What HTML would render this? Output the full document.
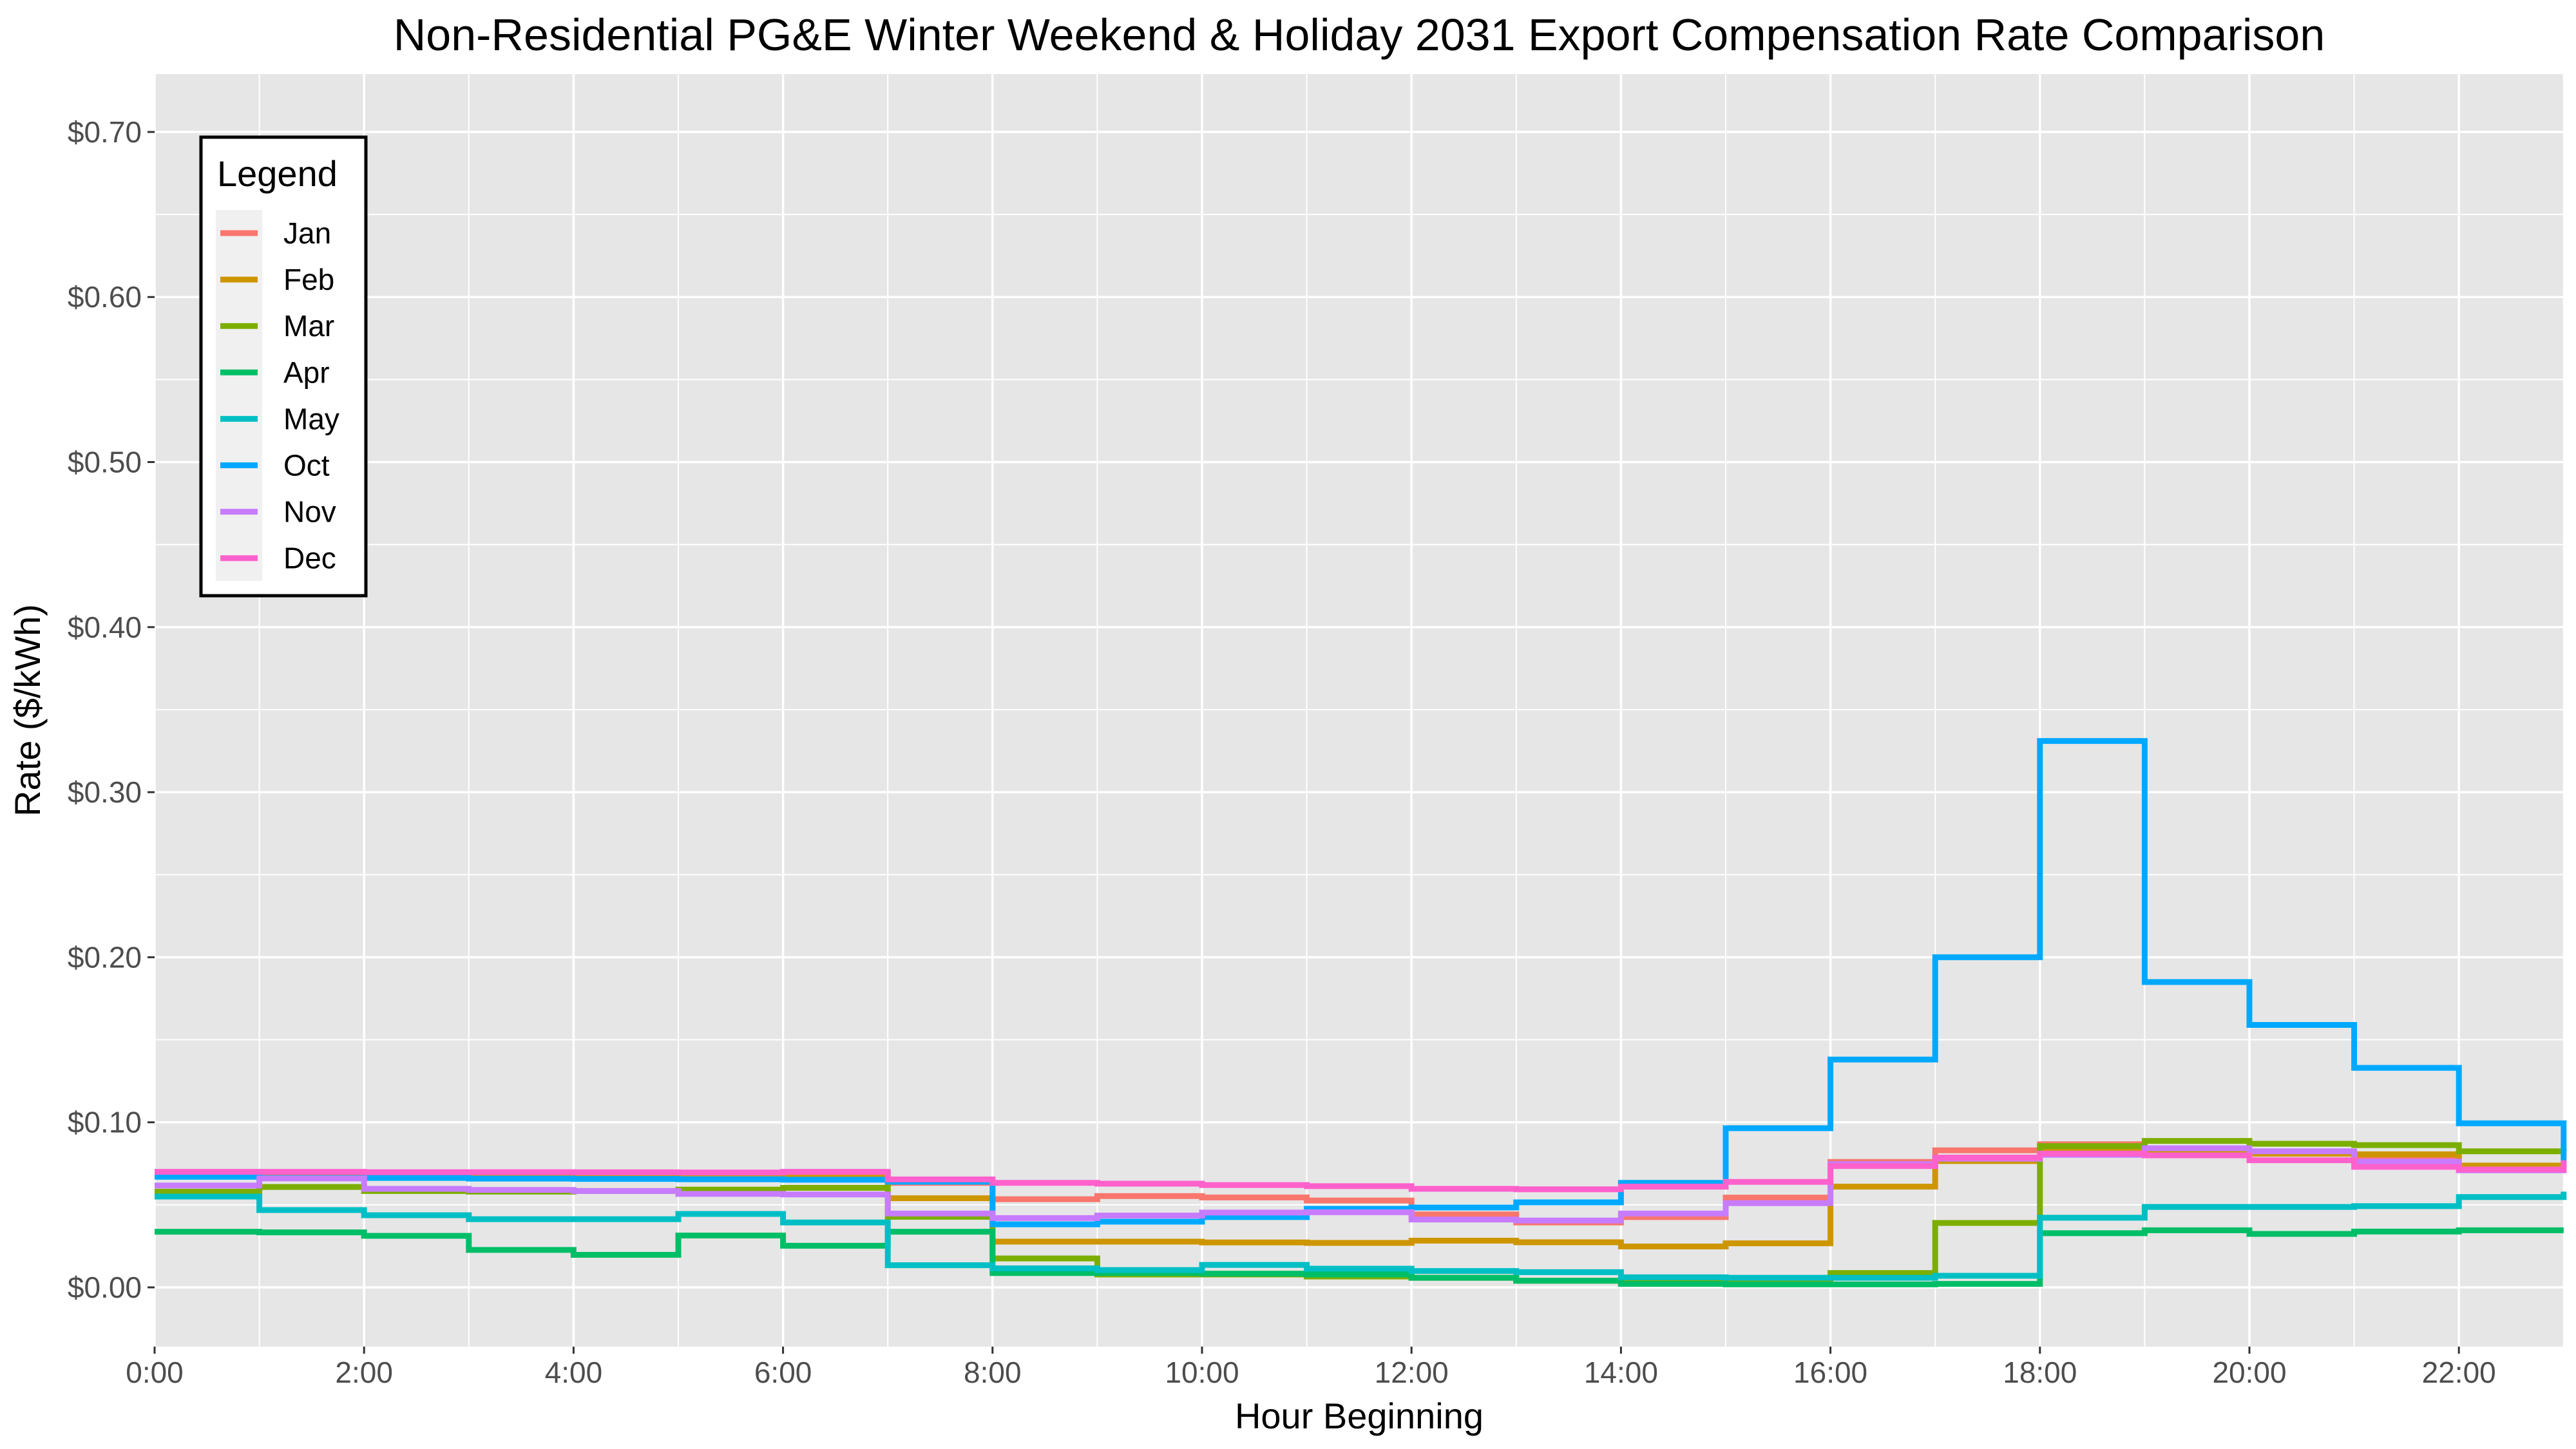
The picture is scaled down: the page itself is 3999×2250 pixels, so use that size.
<!DOCTYPE html>
<html><head><meta charset="utf-8"><style>
html,body{margin:0;padding:0;background:#fff;}
svg{display:block;font-family:"Liberation Sans",Arial,sans-serif;}
</style></head><body>
<svg id="chart" width="3999" height="2250" viewBox="0 0 3999 2250" xmlns="http://www.w3.org/2000/svg">
<text x="2110" y="78" font-size="70" text-anchor="middle" fill="#000">Non-Residential PG&amp;E Winter Weekend &amp; Holiday 2031 Export Compensation Rate Comparison</text>
<rect x="240" y="115" width="3740" height="1976" fill="#E6E6E6"/>
<g id="grid"></g>
<g id="series"></g>
<g id="axes"></g>
<text transform="translate(62,1103) rotate(-90)" font-size="56" text-anchor="middle" fill="#000">Rate ($/kWh)</text>
<text x="2110" y="2218" font-size="56" text-anchor="middle" fill="#000">Hour Beginning</text>
<g id="legend">
<rect x="312" y="213" width="256" height="712" fill="#fff" stroke="#000" stroke-width="5"/>
<text x="337" y="289" font-size="56" fill="#000">Legend</text>
<rect x="335" y="326" width="72" height="576" fill="#F0F0F0"/>
</g>
</svg>
<script>
const hours = [0,1,2,3,4,5,6,7,8,9,10,11,12,13,14,15,16,17,18,19,20,21,22,23];
const months = ["Jan","Feb","Mar","Apr","May","Oct","Nov","Dec"];
const colors = ["#F8766D","#CD9600","#7CAE00","#00BE67","#00BFC4","#00A9FF","#C77CFF","#FF61CC"];
const janValues = [0.069,0.069,0.069,0.069,0.069,0.069,0.069,0.0633,0.0534,0.0553,0.0545,0.0526,0.0442,0.0393,0.0426,0.0544,0.076,0.083,0.0867,0.082,0.081,0.078,0.0733,0.0746];
const febValues = [0.069,0.069,0.069,0.069,0.069,0.069,0.068,0.054,0.0277,0.0277,0.0272,0.0269,0.0283,0.0273,0.0248,0.0267,0.061,0.0765,0.0835,0.082,0.081,0.0806,0.0738,0.074];
const marValues = [0.058,0.0608,0.0584,0.058,0.0584,0.0592,0.0603,0.0427,0.0175,0.0078,0.0078,0.0066,0.0058,0.004,0.0034,0.003,0.0087,0.039,0.0856,0.0887,0.087,0.0862,0.0824,0.082];
const aprValues = [0.0337,0.0333,0.0312,0.0227,0.0197,0.0314,0.0252,0.0337,0.0087,0.0087,0.0083,0.0078,0.0058,0.004,0.0021,0.0018,0.0018,0.0021,0.0328,0.0346,0.0324,0.0338,0.0346,0.0346];
const mayValues = [0.055,0.0468,0.0437,0.0413,0.0413,0.0445,0.0393,0.0134,0.0115,0.0105,0.0136,0.0113,0.0099,0.0092,0.0061,0.0058,0.0058,0.007,0.0422,0.0487,0.0487,0.0492,0.0547,0.058];
const octValues = [0.067,0.0663,0.0663,0.0659,0.0657,0.0655,0.0652,0.064,0.0382,0.0398,0.0426,0.0476,0.0484,0.0515,0.0633,0.0964,0.138,0.2,0.331,0.185,0.159,0.133,0.0994,0.072];
const novValues = [0.0617,0.066,0.0597,0.059,0.0584,0.0566,0.0563,0.0447,0.042,0.0435,0.0453,0.0455,0.0411,0.0405,0.0447,0.051,0.0746,0.078,0.0803,0.0843,0.0824,0.0762,0.0709,0.071];
const decValues = [0.070,0.070,0.0698,0.0698,0.0697,0.0696,0.070,0.0654,0.0633,0.0628,0.062,0.0613,0.0597,0.0594,0.061,0.0639,0.0735,0.0786,0.081,0.080,0.077,0.073,0.0714,0.077];
const seriesValues = [janValues,febValues,marValues,aprValues,mayValues,octValues,novValues,decValues];
const yTicks = [0,0.1,0.2,0.3,0.4,0.5,0.6,0.7];
const yTickLabels = ["$0.00","$0.10","$0.20","$0.30","$0.40","$0.50","$0.60","$0.70"];
const xTicks = [0,2,4,6,8,10,12,14,16,18,20,22];
const xTickLabels = ["0:00","2:00","4:00","6:00","8:00","10:00","12:00","14:00","16:00","18:00","20:00","22:00"];

const NS="http://www.w3.org/2000/svg";
const PL=240,PR=3980,PT=115,PB=2091;
const X0=240,XH=162.6;
const Y0=1999,YU=2563;
function xs(h){return X0+h*XH;}
function ys(v){return Y0-v*YU;}
function mk(tag,attrs,parent){const e=document.createElementNS(NS,tag);for(const k in attrs)e.setAttribute(k,attrs[k]);parent.appendChild(e);return e;}
const grid=document.getElementById('grid'),axes=document.getElementById('axes'),ser=document.getElementById('series'),leg=document.getElementById('legend');
for(let v=-0.05;v<=0.75;v+=0.1){const y=ys(v);if(y<PT||y>PB)continue;
 const l=mk('line',{x1:PL,x2:PR,y1:y,y2:y,stroke:'#fff','stroke-width':2},grid);
 
 }
for(let h=1;h<=23;h+=2){const x=xs(h);
 const l=mk('line',{x1:x,x2:x,y1:PT,y2:PB,stroke:'#fff','stroke-width':2},grid);
 
 }
yTicks.forEach((v,i)=>{const y=ys(v);
 const l=mk('line',{x1:PL,x2:PR,y1:y,y2:y,stroke:'#fff','stroke-width':3.5},grid);
 
 
 const t=mk('line',{x1:PL-11,x2:PL,y1:y,y2:y,stroke:'#333','stroke-width':3},axes);
 
 
 const tx=mk('text',{x:PL-20,y:y+16,'font-size':46,'text-anchor':'end',fill:'#4D4D4D'},axes);
 tx.textContent=yTickLabels[i];
 
 });
xTicks.forEach((h,i)=>{const x=xs(h);
 const l=mk('line',{x1:x,x2:x,y1:PT,y2:PB,stroke:'#fff','stroke-width':3.5},grid);
 
 
 const t=mk('line',{x1:x,x2:x,y1:PB,y2:PB+11,stroke:'#333','stroke-width':3},axes);
 
 
 const tx=mk('text',{x:x,y:PB+56,'font-size':46,'text-anchor':'middle',fill:'#4D4D4D'},axes);
 tx.textContent=xTickLabels[i];
 
 });
seriesValues.forEach((vals,si)=>{
 let d='M'+xs(hours[0])+','+ys(vals[0]);
 for(let i=1;i<hours.length;i++){d+=' H'+xs(hours[i])+' V'+ys(vals[i]);}
 const p=mk('path',{d:d,fill:'none',stroke:colors[si],'stroke-width':9,'stroke-linejoin':'miter'},ser);
 
 
 const y=362+si*72.1;
 const k=mk('line',{x1:342,x2:400,y1:y,y2:y,stroke:colors[si],'stroke-width':9},leg);
 
 
 const t=mk('text',{x:440,y:y+16,'font-size':46,fill:'#000'},leg);
 t.textContent=months[si];
 
 
});
</script>
</body></html>
